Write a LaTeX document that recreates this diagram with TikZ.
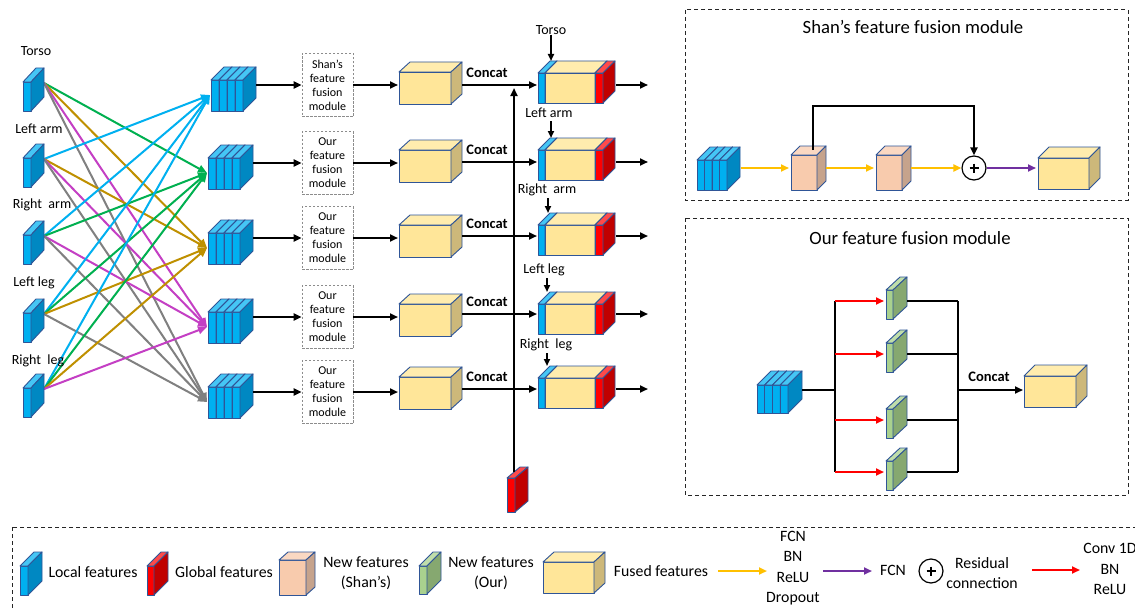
\documentclass[tikz,border=0pt]{standalone}
\usepackage{fontspec}
\setmainfont{Carlito}
\usetikzlibrary{arrows.meta}
\definecolor{bluF}{HTML}{00B0F0}
\definecolor{bluT}{HTML}{45C6F5}
\definecolor{bluS}{HTML}{0088C2}
\definecolor{redF}{HTML}{FF0000}
\definecolor{redT}{HTML}{FF4A4A}
\definecolor{redS}{HTML}{C00000}
\definecolor{yelF}{HTML}{FFE699}
\definecolor{yelT}{HTML}{FFECAE}
\definecolor{yelS}{HTML}{CDB87A}
\definecolor{pnkF}{HTML}{F8CBAD}
\definecolor{pnkT}{HTML}{FAD8C2}
\definecolor{pnkS}{HTML}{C6A38C}
\definecolor{grnF}{HTML}{A9D18E}
\definecolor{grnT}{HTML}{C0DEAA}
\definecolor{grnS}{HTML}{86A870}
\definecolor{cubeout}{HTML}{2F5597}
\definecolor{cA}{HTML}{00B0F0}
\definecolor{cB}{HTML}{00B050}
\definecolor{cC}{HTML}{BF9000}
\definecolor{cD}{HTML}{C43FC4}
\definecolor{cE}{HTML}{808080}
\definecolor{ylw}{HTML}{FFC000}
\definecolor{prp}{HTML}{7030A0}
\definecolor{boxgray}{HTML}{8C8C8C}
\tikzset{
  cubeline/.style={draw=cubeout, line width=0.9pt, line join=round},
  blk/.style={line width=2.3pt, -{Triangle[length=8pt,width=7pt]}},
  fan/.style={line width=2pt, -{Triangle[length=9pt,width=7.5pt]}},
  thinarr/.style={line width=2pt, -{Triangle[length=7pt,width=6pt]}},
  plainline/.style={line width=2.3pt},
  lab/.style={inner sep=0pt, font=\fontsize{14}{16}\selectfont},
  fusebox/.style={draw=boxgray, dash pattern=on 2.5pt off 1.5pt, line width=0.8pt,
    minimum width=51pt, minimum height=63pt, inner sep=0pt, align=center,
    font=\fontsize{12}{14}\selectfont},
  concatlab/.style={inner sep=0pt, font=\fontsize{14.5}{16}\selectfont\bfseries},
  title/.style={inner sep=0pt, font=\fontsize{18.7}{22}\selectfont},
  legtext/.style={inner sep=0pt, align=center, font=\fontsize{15.8}{20.5}\selectfont},
  panel/.style={draw=black!85, dash pattern=on 4pt off 3pt, line width=1pt},
  oplus/.style={circle, draw, line width=1.2pt, minimum size=24pt, inner sep=0pt, fill=white}
}
% x, y (front top-left), width, height, dx, dy, colour prefix
\newcommand{\mycube}[7]{%
  \filldraw[fill=#7F, cubeline] (#1,#2) rectangle ++(#3,#4);
  \filldraw[fill=#7T, cubeline] (#1,#2) -- ++(#5,-#6) -- ++(#3,0) -- ++(-#5,#6) -- cycle;
  \filldraw[fill=#7S, cubeline] (#1+#3,#2) -- ++(#5,-#6) -- ++(0,#4) -- ++(-#5,#6) -- cycle;
}
% x, y, slab width, height, depth
\newcommand{\mystack}[5]{%
  \foreach \k in {0,1,2,3}{\mycube{#1+\k*#3}{#2}{#3}{#4}{#5}{#5}{blu}}%
}
\newcommand{\plussign}[1]{%
  \draw[line width=2pt] (#1.center) +(-4.5,0) -- +(4.5,0);
  \draw[line width=2pt] (#1.center) +(0,-4.5) -- +(0,4.5);
}
\begin{document}
\begin{tikzpicture}[x=1pt,y=-1pt]
\useasboundingbox (0,0) rectangle (1135,610);
\clip (0,0) rectangle (1135,610);
\fill[white] (0,0) rectangle (1135,610);

% ---------- fan of coloured connections ----------
\coordinate (s1) at (44,83);
\coordinate (s2) at (44,159);
\coordinate (s3) at (44,236);
\coordinate (s4) at (44,314);
\coordinate (s5) at (44,389);
\coordinate (t1) at (210,95);
\coordinate (t2) at (207,173);
\coordinate (t3) at (207,248);
\coordinate (t4) at (207,327);
\coordinate (t5) at (207,402);
\foreach \i in {1,...,5}{
  \foreach \j/\c in {1/cA,2/cB,3/cC,4/cD,5/cE}{
    \ifnum\i=\j\else \draw[fan,\c] (s\i) -- (t\j);\fi
  }
}

% ---------- inputs ----------
\mycube{23}{82}{8}{29}{13}{14}{blu}
\mycube{23}{158}{8}{29}{13}{14}{blu}
\mycube{23}{235}{8}{29}{13}{14}{blu}
\mycube{23}{313}{8}{29}{13}{14}{blu}
\mycube{23}{388}{8}{29}{13}{14}{blu}
\node[lab] (ltorso) at (36,51) {Torso};
\node[lab] (llarm) at (39,129) {Left arm};
\node[lab] (lrarm) at (42,205) {Right\ \ arm};
\node[lab] (llleg) at (34,283) {Left leg};
\node[lab] (lrleg) at (38,361) {Right\ \ leg};

% ---------- stacks ----------
\mystack{211}{80}{8}{31}{13}
\mystack{208}{158}{8}{31}{13}
\mystack{208}{233}{8}{31}{13}
\mystack{208}{312}{8}{31}{13}
\mystack{208}{387}{8}{31}{13}

% ---------- rows ----------
\foreach \r/\L/\K/\C/\M/\sx in {1/85/72/85/73/256, 2/163/150/162/150/253, 3/238/225/236/225/253, 4/317/304/314/304/253, 5/392/377/389/378/253}{
  \coordinate (so\r) at (\sx,\L);
  \ifnum\r=1
    \node[fusebox] (fb\r) at (327.5,\L) {Shan’s\\feature\\fusion\\module};
  \else
    \node[fusebox] (fb\r) at (327.5,\L) {Our\\feature\\fusion\\module};
  \fi
  \draw[blk] (so\r) -- (fb\r.west);
  \coordinate (yin\r) at (398,\L);
  \draw[blk] (fb\r.east) -- (yin\r);
  \mycube{399}{\K}{52}{32}{11}{10}{yel}
  \coordinate (yout\r) at (462,\C);
  \coordinate (min\r) at (537,\C);
  \draw[blk] (yout\r) -- (min\r);
  \node[concatlab] (cc\r) at (487,\C-12) {Concat};
  \mycube{538}{\M}{7}{30}{12}{12}{blu}
  \mycube{545}{\M}{50}{30}{12}{12}{yel}
  \mycube{595}{\M}{8}{30}{12}{12}{red}
  \coordinate (mout\r) at (616,\C);
  \coordinate (mend\r) at (648,\C);
  \draw[blk] (mout\r) -- (mend\r);
}

% global feature and vertical connector
\mycube{507}{478}{8}{34}{13}{11}{red}
\coordinate (gtop) at (514,472);
\coordinate (gend) at (514,88);
\draw[blk] (gtop) -- (gend);

% labels over merged blocks
\node[lab] (mt1) at (551,30) {Torso};
\node[lab] (mt2) at (549,113) {Left arm};
\node[lab] (mt3) at (547,190) {Right\ \ arm};
\node[lab] (mt4) at (544,270) {Left leg};
\node[lab] (mt5) at (546,345) {Right\ \ leg};
\coordinate (mh1) at (551,61);
\coordinate (mh2) at (551,138);
\coordinate (mh3) at (548,213);
\coordinate (mh4) at (547,292);
\coordinate (mh5) at (547,366);
\draw[thinarr] (mt1.south -| mh1) -- (mh1);
\draw[thinarr] (551,121) -- (mh2);
\draw[thinarr] (548,198) -- (mh3);
\draw[thinarr] (547,278) -- (mh4);
\draw[thinarr] (547,353) -- (mh5);

% ---------- Shan's module ----------
\draw[panel] (685,10) rectangle (1128,200);
\node[title] (t1s) at (913,27) {Shan’s feature fusion module};
\mystack{697}{160}{7.5}{30}{13}
\mycube{791}{155}{26}{35}{9}{9}{pnk}
\mycube{876}{155}{26}{35}{9}{9}{pnk}
\mycube{1038}{158}{51}{31}{11}{11}{yel}
\node[oplus] (pl) at (974,168) {};
\plussign{pl}
\coordinate (sa0) at (741,168);
\coordinate (sa1) at (789,168);
\coordinate (sb0) at (826,168);
\coordinate (sb1) at (874,168);
\coordinate (sc0) at (911,168);
\coordinate (sd1) at (1036,168);
\coordinate (res0) at (813,150);
\coordinate (res1) at (974,106);
\draw[line width=2pt, ylw, -{Triangle[length=8pt,width=7pt]}] (sa0) -- (sa1);
\draw[line width=2pt, ylw, -{Triangle[length=8pt,width=7pt]}] (sb0) -- (sb1);
\draw[line width=2pt, ylw, -{Triangle[length=8pt,width=7pt]}] (sc0) -- (pl.west);
\draw[line width=2pt, prp, -{Triangle[length=8pt,width=7pt]}] (pl.east) -- (sd1);
\draw[line width=2.3pt, -{Triangle[length=8pt,width=7pt]}] (res0) |- (res1) -- (pl.north);

% ---------- Our module ----------
\draw[panel] (685,218) rectangle (1128,495);
\node[title] (t2s) at (910,238) {Our feature fusion module};
\mystack{757}{385}{7.75}{28}{14}
\coordinate (oa0) at (802,390);
\coordinate (oa1) at (835,390);
\coordinate (ob) at (835,301);
\coordinate (oc) at (835,472);
\draw[plainline] (oa0) -- (oa1);
\draw[plainline] (ob) -- (oc);
\foreach \y [count=\n] in {301,354,420,472}{
  \coordinate (ra\n) at (835,\y);
  \coordinate (rb\n) at (884,\y);
  \draw[line width=2pt, red, -{Triangle[length=8pt,width=7pt]}] (ra\n) -- (rb\n);
  \mycube{886}{\y-11}{7}{29}{14}{13}{grn}
  \coordinate (ga\n) at (907,\y);
  \coordinate (gb\n) at (958,\y);
  \draw[plainline] (ga\n) -- (gb\n);
}
\draw[plainline] (958,301) -- (958,472);
\coordinate (oc0) at (958,390);
\coordinate (oc1) at (1023,390);
\draw[blk] (oc0) -- (oc1);
\node[concatlab] (occ) at (989,377) {Concat};
\mycube{1024}{376}{52}{31}{11}{11}{yel}

% ---------- Legend ----------
\draw[panel] (12,527) rectangle (1150,620);
\mycube{20}{566}{8}{29}{14}{14}{blu}
\node[legtext] (lg1) at (93,572) {Local features};
\mycube{147}{566}{7}{29}{14}{14}{red}
\node[legtext] (lg2) at (224,572) {Global features};
\mycube{279}{560}{27}{35}{9}{8}{pnk}
\node[legtext] (lg3) at (366,573) {New features\\(Shan’s)};
\mycube{419}{566}{8}{28}{14}{14}{grn}
\node[legtext] (lg4) at (491,573) {New features\\(Our)};
\mycube{543}{562}{51}{31}{11}{10}{yel}
\node[legtext] (lg5) at (661,571) {Fused features};
\coordinate (la0) at (718,571);
\coordinate (la1) at (767,571);
\draw[line width=2pt, ylw, -{Triangle[length=8pt,width=7pt]}] (la0) -- (la1);
\node[legtext] (lg6) at (793,568) {FCN\\BN\\ReLU\\Dropout};
\coordinate (lb0) at (823,571);
\coordinate (lb1) at (872,571);
\draw[line width=2pt, prp, -{Triangle[length=8pt,width=7pt]}] (lb0) -- (lb1);
\node[legtext] (lg7) at (893,570) {FCN};
\node[oplus] (lpl) at (931,571) {};
\plussign{lpl}
\node[legtext] (lg8) at (982,573) {Residual\\connection};
\coordinate (lc0) at (1032,570);
\coordinate (lc1) at (1080,570);
\draw[line width=2pt, red, -{Triangle[length=8pt,width=7pt]}] (lc0) -- (lc1);
\node[legtext] (lg9) at (1110,569) {Conv 1D\\BN\\ReLU};
\end{tikzpicture}
\end{document}
